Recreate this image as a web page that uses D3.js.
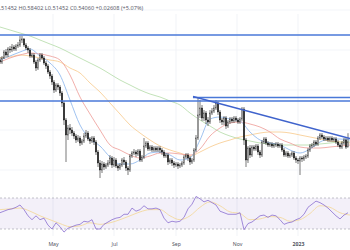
<!DOCTYPE html>
<html>
<head>
<meta charset="utf-8">
<script src="https://cdn.jsdelivr.net/npm/d3@7"></script>
<style>
  body { margin: 0; background: #fff; }
  svg { display: block; font-family: "Noto Sans", Roboto, sans-serif; }
</style>
</head>
<body>
<div id="chart"></div>
<script>
// --- data ---
const startDate = new Date(2022, 2, 9);
const endDate = new Date(2023, 1, 22);

// candles, one every 2 days
const candleStep = 2;
const firstOpen = 0.950;
const closes = [
  0.940,0.960,0.990,0.975,1.005,1.000,1.015,1.005,1.020,1.025,
  1.050,1.055,1.025,1.010,1.000,0.970,0.975,0.940,0.910,0.950,
  0.975,0.960,0.935,0.920,0.890,0.870,0.840,0.800,0.825,0.815,
  0.785,0.735,0.650,0.575,0.610,0.600,0.585,0.570,0.550,0.560,
  0.535,0.545,0.570,0.585,0.555,0.545,0.560,0.540,0.490,0.435,
  0.400,0.430,0.415,0.425,0.435,0.460,0.425,0.450,0.420,0.410,
  0.425,0.450,0.440,0.410,0.400,0.470,0.485,0.490,0.480,0.495,
  0.450,0.465,0.520,0.535,0.505,0.515,0.500,0.510,0.500,0.510,
  0.500,0.490,0.470,0.475,0.440,0.450,0.435,0.425,0.430,0.420,
  0.425,0.435,0.465,0.475,0.460,0.440,0.450,0.500,0.560,0.675,
  0.710,0.660,0.685,0.650,0.640,0.685,0.695,0.710,0.735,0.690,
  0.650,0.640,0.660,0.620,0.640,0.655,0.645,0.660,0.650,0.640,
  0.655,0.705,0.550,0.450,0.510,0.475,0.515,0.505,0.520,0.490,
  0.475,0.540,0.555,0.535,0.525,0.530,0.520,0.525,0.530,0.520,
  0.525,0.500,0.475,0.485,0.470,0.475,0.485,0.460,0.450,0.445,
  0.460,0.455,0.465,0.470,0.500,0.520,0.525,0.540,0.530,0.560,
  0.575,0.565,0.555,0.560,0.550,0.560,0.550,0.555,0.540,0.525,
  0.515,0.535,0.550,0.51452,0.54060
];
const highs = [
  0.965,0.970,1.000,1.005,1.015,1.020,1.030,1.025,1.030,1.040,
  1.070,1.070,1.060,1.035,1.020,1.010,0.985,0.985,0.950,0.960,
  0.985,0.985,0.970,0.945,0.930,0.900,0.880,0.850,0.835,0.835,
  0.825,0.795,0.745,0.660,0.625,0.630,0.615,0.595,0.580,0.575,
  0.570,0.555,0.585,0.600,0.595,0.565,0.570,0.570,0.550,0.500,
  0.450,0.445,0.440,0.435,0.450,0.475,0.470,0.465,0.460,0.430,
  0.435,0.460,0.465,0.450,0.420,0.480,0.495,0.505,0.500,0.505,
  0.505,0.475,0.560,0.545,0.545,0.525,0.525,0.520,0.520,0.520,
  0.520,0.510,0.500,0.485,0.485,0.460,0.460,0.445,0.440,0.440,
  0.435,0.445,0.475,0.485,0.485,0.470,0.460,0.510,0.575,0.760,
  0.750,0.725,0.700,0.695,0.665,0.700,0.710,0.725,0.750,0.745,
  0.700,0.660,0.670,0.670,0.650,0.665,0.665,0.670,0.670,0.660,
  0.665,0.715,0.715,0.560,0.520,0.525,0.525,0.525,0.530,0.530,
  0.500,0.550,0.565,0.565,0.545,0.540,0.540,0.535,0.540,0.540,
  0.535,0.535,0.510,0.495,0.495,0.485,0.495,0.495,0.470,0.460,
  0.470,0.470,0.475,0.480,0.510,0.530,0.535,0.550,0.550,0.570,
  0.585,0.585,0.575,0.570,0.570,0.570,0.570,0.565,0.565,0.550,
  0.535,0.545,0.560,0.560,0.58402
];
const lows = [
  0.930,0.930,0.955,0.965,0.965,0.985,0.990,0.995,0.995,1.010,
  1.015,1.035,1.015,1.000,0.985,0.960,0.960,0.930,0.895,0.900,
  0.940,0.950,0.925,0.905,0.880,0.855,0.825,0.785,0.790,0.800,
  0.770,0.715,0.625,0.440,0.550,0.580,0.570,0.555,0.535,0.540,
  0.520,0.525,0.535,0.560,0.545,0.530,0.535,0.525,0.475,0.415,
  0.360,0.385,0.400,0.405,0.415,0.425,0.410,0.415,0.410,0.395,
  0.400,0.415,0.425,0.395,0.375,0.390,0.460,0.475,0.465,0.470,
  0.440,0.440,0.455,0.510,0.495,0.495,0.490,0.490,0.490,0.490,
  0.485,0.475,0.460,0.460,0.425,0.430,0.420,0.410,0.415,0.405,
  0.410,0.415,0.425,0.455,0.445,0.425,0.430,0.440,0.490,0.550,
  0.660,0.645,0.645,0.630,0.620,0.630,0.675,0.685,0.700,0.675,
  0.635,0.625,0.625,0.605,0.610,0.630,0.635,0.635,0.640,0.630,
  0.630,0.645,0.525,0.415,0.435,0.460,0.465,0.495,0.495,0.475,
  0.460,0.465,0.530,0.525,0.515,0.515,0.510,0.510,0.515,0.510,
  0.510,0.490,0.465,0.465,0.460,0.460,0.465,0.450,0.435,0.430,
  0.375,0.440,0.445,0.455,0.460,0.490,0.510,0.515,0.520,0.520,
  0.550,0.555,0.545,0.545,0.540,0.540,0.540,0.540,0.530,0.515,
  0.505,0.505,0.525,0.505,0.51452
];

// moving averages, sampled every 10 days
const maStep = 10;
const maFast = [0.950,0.970,0.990,1.005,0.970,0.935,0.875,0.750,0.625,0.555,0.520,0.465,0.430,0.430,0.450,0.485,0.490,0.475,0.450,0.460,0.550,0.655,0.665,0.655,0.645,0.590,0.550,0.535,0.525,0.500,0.485,0.505,0.540,0.555,0.555,0.550];
const maMid = [0.940,0.960,0.975,0.985,0.980,0.970,0.950,0.875,0.765,0.680,0.600,0.525,0.500,0.475,0.460,0.470,0.485,0.485,0.480,0.475,0.505,0.570,0.610,0.635,0.640,0.630,0.615,0.590,0.555,0.535,0.515,0.510,0.510,0.515,0.520,0.525];
const maSlow = [0.960,0.965,0.975,0.970,0.960,0.950,0.940,0.910,0.885,0.835,0.790,0.735,0.680,0.625,0.585,0.550,0.520,0.500,0.485,0.470,0.490,0.515,0.535,0.550,0.565,0.575,0.585,0.590,0.590,0.585,0.575,0.565,0.555,0.545,0.540,0.535];
const maLong = [1.115,1.100,1.085,1.070,1.050,1.030,1.010,0.985,0.960,0.935,0.910,0.880,0.850,0.825,0.800,0.780,0.765,0.745,0.725,0.685,0.650,0.620,0.590,0.570,0.555,0.545,0.535,0.530,0.525,0.525,0.525,0.525,0.530,0.535,0.540,0.540];

// drawn levels
const levelPrices = [1.075, 0.745];
const shortLevel = { from: new Date(2022, 8, 18), price: 0.7625 };
const trendDates = [new Date(2022, 8, 18), new Date(2023, 1, 22)];
const trendPrices = [0.7675, 0.5575];

// RSI every 4 days, RSI MA every 10 days
const rsiStep = 4;
const rsi = [
  51,53,55,56,58,61,55,47,42,47,
  42,44,35,30,38,33,26,31,33,35,
  36,40,39,42,30,30,36,39,42,44,
  45,49,49,57,53,55,60,56,56,57,
  55,44,38,40,39,40,45,56,62,72,
  69,65,67,64,61,53,51,49,49,49,
  51,29,37,39,43,47,48,45,48,47,
  42,36,38,39,42,44,49,58,62,66,
  64,61,57,52,47,43,48,51
];
const rsiMa = [55,56,57,53,47,42,37,33,34,38,36,38,42,47,52,55,55,47,42,47,58,65,60,52,50,42,43,46,45,40,42,50,60,58,51,48];
const rsiBand = [30, 70];

const tickDates = [new Date(2022, 4, 1), new Date(2022, 6, 1), new Date(2022, 8, 1), new Date(2022, 10, 1), new Date(2023, 0, 1)];
const tickLabels = ["May", "Jul", "Sep", "Nov", "2023"];

// --- chart ---
const width = 350, height = 250;
const svg = d3.select("#chart").append("svg")
  .attr("width", width)
  .attr("height", height);

const x = d3.scaleTime().domain([startDate, endDate]).range([0, width]);
const y = d3.scaleLinear().domain([0, 1.25]).range([250, 0]);
const yRsi = d3.scaleLinear().domain([30, 70]).range([229, 198]);

// grid
svg.append("g")
  .selectAll("line")
  .data(tickDates)
  .join("line")
  .attr("x1", d => x(d)).attr("x2", d => x(d))
  .attr("y1", 14).attr("y2", 236)
  .attr("stroke", "#eef0f5")
  .attr("stroke-width", 0.8);

svg.append("g")
  .selectAll("line")
  .data([1.2, 1.0, 0.8, 0.6, 0.4])
  .join("line")
  .attr("x1", 0).attr("x2", width)
  .attr("y1", d => y(d)).attr("y2", d => y(d))
  .attr("stroke", "#f0f2f7")
  .attr("stroke-width", 0.8);

// header (OHLC of the last candle), cut at the left edge like the original
const n = closes.length;
const lastO = closes[n - 2], lastC = closes[n - 1];
const chg = lastC - lastO;
svg.append("text")
  .attr("x", -8)
  .attr("y", 10)
  .attr("font-size", 5.6)
  .attr("fill", "#5d606b")
  .text(`O${lastO.toFixed(5)} H${highs[n - 1].toFixed(5)} L${lows[n - 1].toFixed(5)} C${lastC.toFixed(5)} +${chg.toFixed(5)} (+${(chg / lastO * 100).toFixed(2)}%)`);

// price panel
svg.append("clipPath").attr("id", "pane")
  .append("rect").attr("x", 0).attr("y", 14).attr("width", width).attr("height", 176);
const pane = svg.append("g").attr("clip-path", "url(#pane)");

const maLine = d3.line()
  .x((d, i) => x(d3.timeDay.offset(startDate, i * maStep)))
  .y(d => y(d))
  .curve(d3.curveMonotoneX);

[[maLong, "#b3dba6"], [maSlow, "#f7c98a"], [maMid, "#ee9a95"], [maFast, "#86b2ec"]].forEach(([vals, col]) => {
  pane.append("path")
    .attr("d", maLine(vals))
    .attr("fill", "none")
    .attr("stroke", col)
    .attr("stroke-width", 0.8);
});

// candles
const candles = closes.map((c, i) => ({
  date: d3.timeDay.offset(startDate, i * candleStep),
  o: i === 0 ? firstOpen : closes[i - 1],
  c: c,
  h: highs[i],
  l: lows[i]
}));

const cg = pane.append("g");
cg.selectAll("line")
  .data(candles)
  .join("line")
  .attr("x1", d => x(d.date)).attr("x2", d => x(d.date))
  .attr("y1", d => y(d.h)).attr("y2", d => y(d.l))
  .attr("stroke", "#1f1f1f")
  .attr("stroke-width", 0.6);

cg.selectAll("rect")
  .data(candles)
  .join("rect")
  .attr("x", d => x(d.date) - 0.7)
  .attr("width", 1.4)
  .attr("y", d => y(Math.max(d.o, d.c)))
  .attr("height", d => Math.max(0.6, Math.abs(y(d.o) - y(d.c))))
  .attr("fill", d => d.c >= d.o ? "#ffffff" : "#1f1f1f")
  .attr("stroke", "#1f1f1f")
  .attr("stroke-width", 0.4);

// levels and trendline
const lineBlue = "#4a78d8";
svg.append("g")
  .selectAll("line")
  .data(levelPrices)
  .join("line")
  .attr("x1", 0).attr("x2", width)
  .attr("y1", d => y(d)).attr("y2", d => y(d))
  .attr("stroke", lineBlue)
  .attr("stroke-width", 1.6);

svg.append("line")
  .attr("x1", x(shortLevel.from)).attr("x2", width)
  .attr("y1", y(shortLevel.price)).attr("y2", y(shortLevel.price))
  .attr("stroke", lineBlue)
  .attr("stroke-width", 1.4);

svg.append("line")
  .attr("x1", x(trendDates[0])).attr("x2", x(trendDates[1]))
  .attr("y1", y(trendPrices[0])).attr("y2", y(trendPrices[1]))
  .attr("stroke", "#3f63cc")
  .attr("stroke-width", 1.4);

// RSI panel
svg.append("rect")
  .attr("x", 0).attr("width", width)
  .attr("y", yRsi(rsiBand[1]))
  .attr("height", yRsi(rsiBand[0]) - yRsi(rsiBand[1]))
  .attr("fill", "#7e57c2")
  .attr("fill-opacity", 0.09);

svg.append("g")
  .selectAll("line")
  .data(rsiBand)
  .join("line")
  .attr("x1", 0).attr("x2", width)
  .attr("y1", d => yRsi(d)).attr("y2", d => yRsi(d))
  .attr("stroke", "#9a9aa6")
  .attr("stroke-width", 0.6)
  .attr("stroke-dasharray", "2,2");

svg.append("path")
  .attr("d", d3.line()
    .x((d, i) => x(d3.timeDay.offset(startDate, i * maStep)))
    .y(d => yRsi(d))
    .curve(d3.curveMonotoneX)(rsiMa))
  .attr("fill", "none")
  .attr("stroke", "#f3d9a0")
  .attr("stroke-width", 0.9);

svg.append("path")
  .attr("d", d3.line()
    .x((d, i) => x(d3.timeDay.offset(startDate, i * rsiStep)))
    .y(d => yRsi(d))(rsi))
  .attr("fill", "none")
  .attr("stroke", "#8a6fd0")
  .attr("stroke-width", 0.8);

// time axis
const axis = svg.append("g")
  .attr("transform", "translate(0,239)")
  .call(d3.axisBottom(x).tickValues(tickDates).tickFormat((d, i) => tickLabels[i]).tickSize(0).tickPadding(3));
axis.select(".domain").remove();
axis.selectAll("text")
  .attr("font-size", 5.2)
  .attr("font-family", "Noto Sans, Roboto, sans-serif")
  .attr("fill", "#50535e")
  .attr("font-weight", (d, i) => tickLabels[i] === "2023" ? "bold" : null);
</script>
</body>
</html>
